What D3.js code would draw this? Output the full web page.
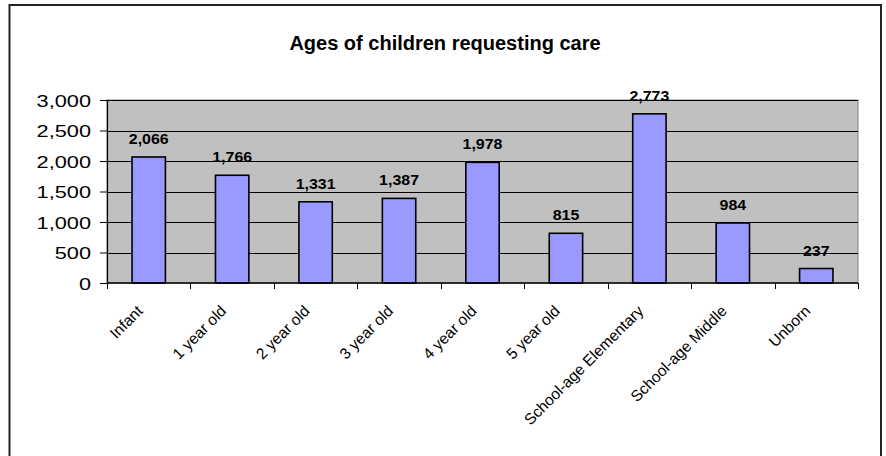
<!DOCTYPE html>
<html>
<head>
<meta charset="utf-8">
<script src="https://cdn.jsdelivr.net/npm/d3@7/dist/d3.min.js"></script>
<style>
  html, body { margin: 0; padding: 0; background: #fff; }
  svg { display: block; font-family: Arial, "Liberation Sans", sans-serif; }
</style>
</head>
<body>
<svg id="chart" width="886" height="456"></svg>
<script>
// Categories and counts
const categories = ["Infant", "1 year old", "2 year old", "3 year old", "4 year old",
  "5 year old", "School-age Elementary", "School-age Middle", "Unborn"];
const requests = [2066, 1766, 1331, 1387, 1978, 815, 2773, 984, 237];
const yTicks = [0, 500, 1000, 1500, 2000, 2500, 3000];
const titleText = "Ages of children requesting care";

const svg = d3.select("#chart");
const plot = { left: 107, right: 858, top: 100, bottom: 283 };

// Outer chart frame
svg.append("rect")
  .attr("x", 9.5).attr("y", 5)
  .attr("width", 871.5).attr("height", 470)
  .attr("fill", "#fff")
  .attr("stroke", "#222")
  .attr("stroke-width", 2);

// Title
svg.append("text")
  .attr("x", 445).attr("y", 50)
  .attr("text-anchor", "middle")
  .attr("font-size", 20)
  .attr("font-weight", "bold")
  .attr("fill", "#000")
  .text(titleText);

const x = d3.scaleBand()
  .domain(categories)
  .range([plot.left, plot.right])
  .paddingInner(0.6)
  .paddingOuter(0.3);

const y = d3.scaleLinear()
  .domain([0, 3000])
  .range([plot.bottom, plot.top]);

// Plot background
svg.append("rect")
  .attr("x", plot.left).attr("y", plot.top)
  .attr("width", plot.right - plot.left)
  .attr("height", plot.bottom - plot.top)
  .attr("fill", "#C0C0C0")
  .attr("stroke", "#808080")
  .attr("stroke-width", 1);

// Horizontal gridlines
svg.append("g")
  .selectAll("line")
  .data(yTicks.filter(d => d > 0))
  .join("line")
  .attr("x1", plot.left).attr("x2", plot.right)
  .attr("y1", d => Math.round(y(d)) + 0.5)
  .attr("y2", d => Math.round(y(d)) + 0.5)
  .attr("stroke", "#000")
  .attr("stroke-width", 1);

// Bars
svg.append("g")
  .selectAll("rect")
  .data(categories)
  .join("rect")
  .attr("x", d => x(d))
  .attr("y", (d, i) => y(requests[i]))
  .attr("width", x.bandwidth())
  .attr("height", (d, i) => y(0) - y(requests[i]))
  .attr("fill", "#9999FF")
  .attr("stroke", "#000")
  .attr("stroke-width", 1.6);

// Value labels above bars
const fmt = d3.format(",");
svg.append("g")
  .selectAll("text")
  .data(categories)
  .join("text")
  .attr("text-anchor", "middle")
  .attr("font-size", 14)
  .attr("font-weight", "bold")
  .attr("fill", "#000")
  .attr("transform", (d, i) =>
    `translate(${x(d) + x.bandwidth() / 2},${y(requests[i]) - 13}) scale(1.14,1)`)
  .text((d, i) => fmt(requests[i]));

// Y axis
const yAxis = svg.append("g")
  .attr("transform", `translate(${plot.left},0)`)
  .call(d3.axisLeft(y).tickValues(yTicks).tickFormat(fmt).tickSize(7).tickSizeOuter(0));
yAxis.select(".domain").attr("stroke", "#000").attr("stroke-width", 1.2);
yAxis.selectAll(".tick line").attr("stroke", "#000");
yAxis.selectAll(".tick text")
  .attr("x", 0)
  .attr("dy", "0.36em")
  .attr("font-size", 17)
  .attr("font-family", "Arial, 'Liberation Sans', sans-serif")
  .attr("fill", "#000")
  .attr("transform", "translate(-16,0) scale(1.28,1)");

// X axis line and boundary ticks
const step = x.step();
const boundaries = categories.map(c => x(c) - step * x.paddingOuter()).concat([plot.right]);
svg.append("line")
  .attr("x1", plot.left).attr("x2", plot.right)
  .attr("y1", y(0)).attr("y2", y(0))
  .attr("stroke", "#000").attr("stroke-width", 1.4);
svg.append("g")
  .selectAll("line")
  .data(boundaries)
  .join("line")
  .attr("x1", d => Math.round(d) + 0.5).attr("x2", d => Math.round(d) + 0.5)
  .attr("y1", y(0)).attr("y2", y(0) + 6)
  .attr("stroke", "#000");

// Rotated category labels
svg.append("g")
  .selectAll("text")
  .data(categories)
  .join("text")
  .attr("text-anchor", "end")
  .attr("font-size", 15.5)
  .attr("fill", "#000")
  .attr("transform", d => `translate(${x(d) + x.bandwidth() / 2 - 5},312) rotate(-45)`)
  .text(d => d);
</script>
</body>
</html>
